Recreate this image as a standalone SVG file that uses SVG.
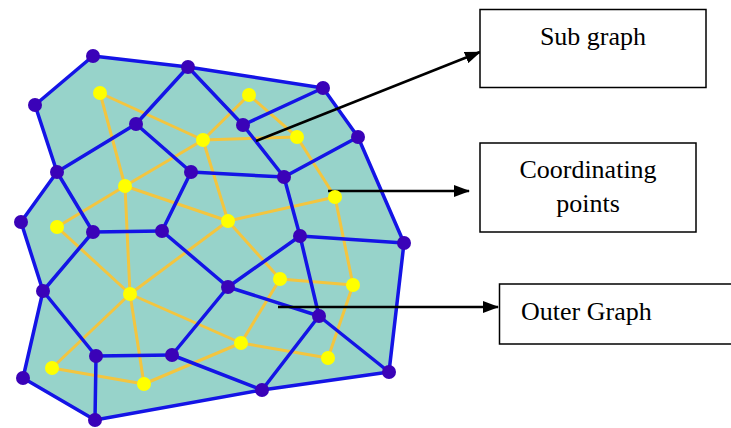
<svg xmlns="http://www.w3.org/2000/svg" width="731" height="428" viewBox="0 0 731 428">
<style>
.fill{fill:#97d3ca;stroke:none}
.ye{stroke:#f3c53f;stroke-width:3;fill:none;stroke-linecap:round}
.be{stroke:#1414e6;stroke-width:3.5;fill:none;stroke-linecap:round;stroke-linejoin:round}
.bn{fill:#3a02b8}
.yn{fill:#ffff00}
.box{fill:#fff;stroke:#000;stroke-width:1.5}
.lbl{font-family:"Liberation Serif","Times New Roman",serif;font-size:26px;fill:#000}
.arr{stroke:#000;stroke-width:2.5;fill:none}
</style>
<defs>
<marker id="ah" markerWidth="16" markerHeight="12" refX="15" refY="6" orient="auto" markerUnits="userSpaceOnUse">
<path d="M0,0 L16,6 L0,12 Z" fill="#000"/>
</marker>
</defs>
<g id="graph-area">
<polygon class="fill" points="93,56 188,67 323,88 358,137 404,243 389,372 262,390 95,420 23,378 43,291 21,222 57,172 35,105"/>
</g>
<g id="connectors">
<g id="sub-edges">
<line class="ye" x1="100" y1="93" x2="203" y2="140"/>
<line class="ye" x1="100" y1="93" x2="125" y2="186"/>
<line class="ye" x1="203" y1="140" x2="249" y2="95"/>
<line class="ye" x1="249" y1="95" x2="297" y2="137"/>
<line class="ye" x1="203" y1="140" x2="297" y2="137"/>
<line class="ye" x1="203" y1="140" x2="125" y2="186"/>
<line class="ye" x1="203" y1="140" x2="228" y2="221"/>
<line class="ye" x1="297" y1="137" x2="335" y2="197"/>
<line class="ye" x1="125" y1="186" x2="57" y2="227"/>
<line class="ye" x1="125" y1="186" x2="130" y2="294"/>
<line class="ye" x1="125" y1="186" x2="228" y2="221"/>
<line class="ye" x1="228" y1="221" x2="335" y2="197"/>
<line class="ye" x1="228" y1="221" x2="130" y2="294"/>
<line class="ye" x1="228" y1="221" x2="280" y2="279"/>
<line class="ye" x1="335" y1="197" x2="353" y2="285"/>
<line class="ye" x1="280" y1="279" x2="353" y2="285"/>
<line class="ye" x1="280" y1="279" x2="241" y2="343"/>
<line class="ye" x1="353" y1="285" x2="328" y2="358"/>
<line class="ye" x1="241" y1="343" x2="328" y2="358"/>
<line class="ye" x1="130" y1="294" x2="57" y2="227"/>
<line class="ye" x1="130" y1="294" x2="52" y2="368"/>
<line class="ye" x1="130" y1="294" x2="144" y2="384"/>
<line class="ye" x1="130" y1="294" x2="241" y2="343"/>
<line class="ye" x1="52" y1="368" x2="144" y2="384"/>
<line class="ye" x1="144" y1="384" x2="241" y2="343"/>
</g>
<g id="outer-edges">
<polygon class="be" points="93,56 188,67 323,88 358,137 404,243 389,372 262,390 95,420 23,378 43,291 21,222 57,172 35,105"/>
<line class="be" x1="188" y1="67" x2="243" y2="125"/>
<line class="be" x1="243" y1="125" x2="323" y2="88"/>
<line class="be" x1="243" y1="125" x2="284" y2="177"/>
<line class="be" x1="284" y1="177" x2="358" y2="137"/>
<line class="be" x1="284" y1="177" x2="300" y2="236"/>
<line class="be" x1="191" y1="172" x2="284" y2="177"/>
<line class="be" x1="136" y1="124" x2="188" y2="67"/>
<line class="be" x1="136" y1="124" x2="57" y2="172"/>
<line class="be" x1="136" y1="124" x2="191" y2="172"/>
<line class="be" x1="191" y1="172" x2="162" y2="231"/>
<line class="be" x1="57" y1="172" x2="93" y2="232"/>
<line class="be" x1="93" y1="232" x2="162" y2="231"/>
<line class="be" x1="93" y1="232" x2="43" y2="291"/>
<line class="be" x1="162" y1="231" x2="228" y2="287"/>
<line class="be" x1="43" y1="291" x2="96" y2="356"/>
<line class="be" x1="96" y1="356" x2="172" y2="355"/>
<line class="be" x1="96" y1="356" x2="95" y2="420"/>
<line class="be" x1="172" y1="355" x2="228" y2="287"/>
<line class="be" x1="172" y1="355" x2="262" y2="390"/>
<line class="be" x1="300" y1="236" x2="404" y2="243"/>
<line class="be" x1="300" y1="236" x2="228" y2="287"/>
<line class="be" x1="300" y1="236" x2="319" y2="316"/>
<line class="be" x1="228" y1="287" x2="319" y2="316"/>
<line class="be" x1="319" y1="316" x2="262" y2="390"/>
<line class="be" x1="319" y1="316" x2="389" y2="372"/>
</g>
<g id="label-arrows">
<line class="arr" x1="256" y1="141" x2="480" y2="52" marker-end="url(#ah)"/>
<line class="arr" x1="328" y1="191" x2="469" y2="191" marker-end="url(#ah)"/>
<line class="arr" x1="278" y1="307" x2="498" y2="307" marker-end="url(#ah)"/>
</g>
</g>
<g id="outer-nodes">
<circle class="bn" cx="93" cy="56" r="7"/>
<circle class="bn" cx="188" cy="67" r="7"/>
<circle class="bn" cx="323" cy="88" r="7"/>
<circle class="bn" cx="358" cy="137" r="7"/>
<circle class="bn" cx="404" cy="243" r="7"/>
<circle class="bn" cx="389" cy="372" r="7"/>
<circle class="bn" cx="262" cy="390" r="7"/>
<circle class="bn" cx="95" cy="420" r="7"/>
<circle class="bn" cx="23" cy="378" r="7"/>
<circle class="bn" cx="43" cy="291" r="7"/>
<circle class="bn" cx="21" cy="222" r="7"/>
<circle class="bn" cx="57" cy="172" r="7"/>
<circle class="bn" cx="35" cy="105" r="7"/>
<circle class="bn" cx="136" cy="124" r="7"/>
<circle class="bn" cx="243" cy="125" r="7"/>
<circle class="bn" cx="191" cy="172" r="7"/>
<circle class="bn" cx="284" cy="177" r="7"/>
<circle class="bn" cx="93" cy="232" r="7"/>
<circle class="bn" cx="162" cy="231" r="7"/>
<circle class="bn" cx="300" cy="236" r="7"/>
<circle class="bn" cx="228" cy="287" r="7"/>
<circle class="bn" cx="319" cy="316" r="7"/>
<circle class="bn" cx="96" cy="356" r="7"/>
<circle class="bn" cx="172" cy="355" r="7"/>
</g>
<g id="sub-nodes">
<circle class="yn" cx="100" cy="93" r="7"/>
<circle class="yn" cx="249" cy="95" r="7"/>
<circle class="yn" cx="203" cy="140" r="7"/>
<circle class="yn" cx="297" cy="137" r="7"/>
<circle class="yn" cx="125" cy="186" r="7"/>
<circle class="yn" cx="335" cy="197" r="7"/>
<circle class="yn" cx="57" cy="227" r="7"/>
<circle class="yn" cx="228" cy="221" r="7"/>
<circle class="yn" cx="280" cy="279" r="7"/>
<circle class="yn" cx="353" cy="285" r="7"/>
<circle class="yn" cx="130" cy="294" r="7"/>
<circle class="yn" cx="241" cy="343" r="7"/>
<circle class="yn" cx="328" cy="358" r="7"/>
<circle class="yn" cx="52" cy="368" r="7"/>
<circle class="yn" cx="144" cy="384" r="7"/>
</g>
<g id="box-sub-graph">
<rect class="box" x="480" y="9.5" width="226" height="78"/>
<text class="lbl" x="593" y="45" text-anchor="middle">Sub graph</text>
</g>
<g id="box-coordinating-points">
<rect class="box" x="480" y="143" width="216" height="89"/>
<text class="lbl" x="588" y="178" text-anchor="middle">Coordinating</text>
<text class="lbl" x="588" y="212" text-anchor="middle">points</text>
</g>
<g id="box-outer-graph">
<rect class="box" x="499.5" y="284" width="240" height="60"/>
<text class="lbl" x="521" y="320">Outer Graph</text>
</g>
</svg>
